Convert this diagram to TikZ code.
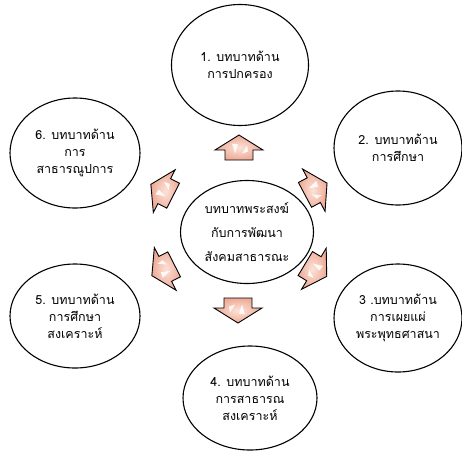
\documentclass[tikz,border=0pt]{standalone}
\usepackage{fontspec}
\newfontfamily\thaifont[Script=Thai]{Loma}
\usetikzlibrary{shapes.geometric}
\definecolor{peach}{RGB}{238,170,150}
\definecolor{peachlight}{RGB}{252,226,216}
\tikzset{
  bubble/.style={ellipse, draw=black, line width=1.1pt, inner sep=0pt, align=center,
    font=\thaifont\fontsize{12.5}{17}\selectfont},
  arrowbody/.style={draw=black, line width=0.9pt, line join=miter, shading=radial,
    inner color=peachlight, outer color=peach},
  blockarrow/.pic={
    \path[arrowbody] (-12.5,-14) -- (-2.5,-14) -- (-2.5,-24) -- (12.5,0) -- (-2.5,24) -- (-2.5,14) -- (-12.5,14) -- cycle;
    \fill[white, opacity=0.85] (-6,-4) -- (4,-7) -- (3,-1) -- cycle;
    \fill[white, opacity=0.85] (-6,3) -- (2,8) -- (-4,9) -- cycle;
  }
}
\begin{document}
\begin{tikzpicture}[x=1pt,y=-1pt]
\useasboundingbox (0,0) rectangle (462,450);
\node[bubble, minimum width=137pt, minimum height=121pt] (n1) at (240,65) {1. บทบาทด้าน\\การปกครอง};
\node[bubble, minimum width=128pt, minimum height=114pt] (n2) at (398,148) {2. บทบาทด้าน\\การศึกษา};
\node[bubble, minimum width=128pt, minimum height=108pt] (n3) at (398,318) {3 .บทบาทด้าน\\การเผยแผ่\\พระพุทธศาสนา};
\node[bubble, minimum width=134pt, minimum height=104pt] (n4) at (250,398) {4. บทบาทด้าน\\การสาธารณ\\สงเคราะห์};
\node[bubble, minimum width=130pt, minimum height=104pt] (n5) at (75,316) {5. บทบาทด้าน\\การศึกษา\\สงเคราะห์};
\node[bubble, minimum width=130pt, minimum height=110pt] (n6) at (75,153) {6. บทบาทด้าน\\การ\\สาธารณูปการ};
\node[bubble, minimum width=133pt, minimum height=103pt,
      font=\thaifont\fontsize{12.5}{24}\selectfont] (c) at (247,232) {บทบาทพระสงฆ์\\กับการพัฒนา\\สังคมสาธารณะ};
\pic[rotate=90] (a1) at (239,147.5) {blockarrow};
\pic[rotate=28] (a2) at (316,189) {blockarrow};
\pic[rotate=-31] (a3) at (316,270) {blockarrow};
\pic[rotate=-90] (a4) at (238,310.5) {blockarrow};
\pic[rotate=207] (a5) at (163,270) {blockarrow};
\pic[rotate=153] (a6) at (162,190) {blockarrow};
\end{tikzpicture}
\end{document}
